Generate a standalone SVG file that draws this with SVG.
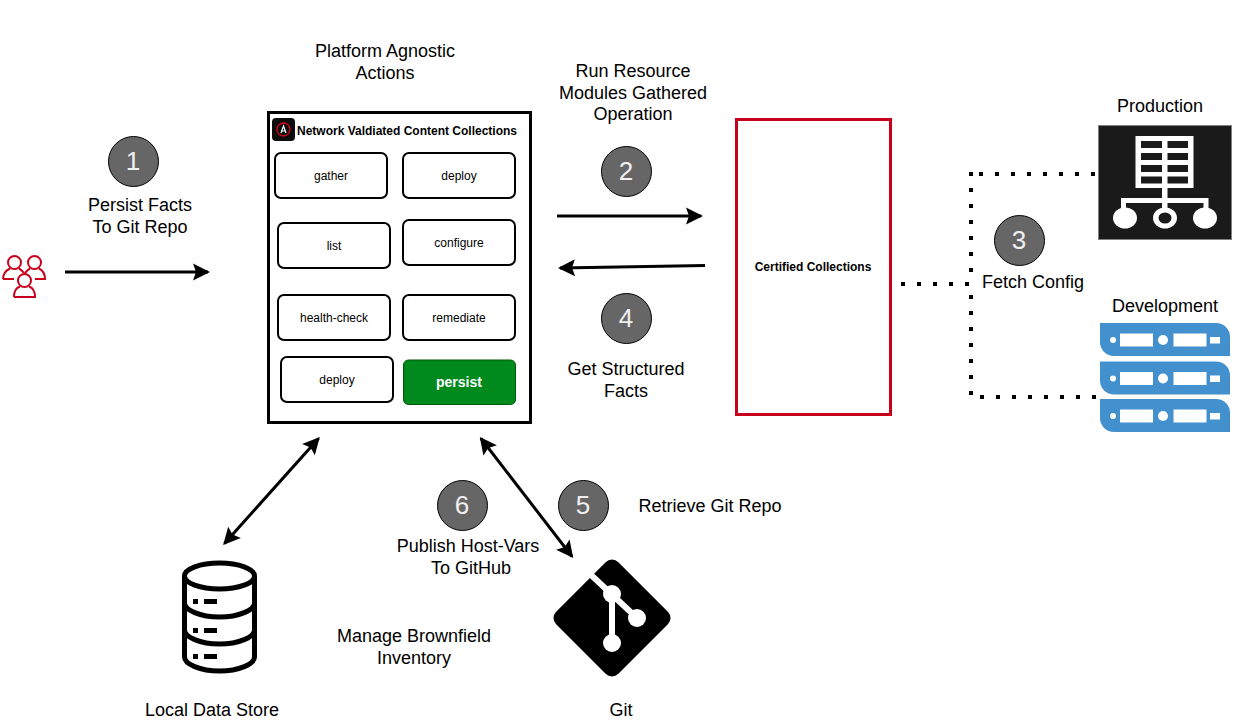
<svg xmlns="http://www.w3.org/2000/svg" width="1244" height="722" viewBox="0 0 1244 722">
<style>
text{font-family:"Liberation Sans",Arial,sans-serif;fill:#000}
.l{font-size:18px;text-anchor:middle}
.s{font-size:12px;text-anchor:middle}
.b{font-size:12px;font-weight:bold}
.box{fill:#fff;stroke:#000;stroke-width:2}
.n{fill:#666;stroke:#000;stroke-width:1}
.nt{font-size:26px;text-anchor:middle;fill:#f0f0f0}
.a{fill:none;stroke:#000;stroke-width:3}
.d{fill:none;stroke:#000;stroke-width:4;stroke-dasharray:4 12}
.p{fill:none;stroke:#c9001b;stroke-width:2}
.sv{fill:#4390ce}
.w{fill:#fff}
</style>
<defs>
<marker id="ah" markerUnits="userSpaceOnUse" markerWidth="30" markerHeight="30" viewBox="-5 -15 30 30" refX="14" refY="0" orient="auto-start-reverse"><path d="M-1-8.500L16 0L-1 8.500L2 0Z" fill="#000"/></marker>
<g id="srv"><path class="sv" d="M1100 0H1216A14 14 0 0 1 1230 14V33H1114A14 14 0 0 1 1100 19Z"/><circle class="w" cx="1113" cy="17" r="3"/><rect class="w" x="1120" y="10.500" width="33" height="13"/><circle class="w" cx="1163" cy="17" r="5"/><rect class="w" x="1173.500" y="10.500" width="33" height="13"/><rect class="w" x="1210" y="14" width="10" height="6.500"/></g>
</defs>
<g id="connectors">
<path class="a" marker-end="url(#ah)" d="M65 272H208"/>
<path class="a" marker-end="url(#ah)" d="M557 216H701"/>
<path class="a" marker-end="url(#ah)" d="M705 265.500L560 268"/>
<path class="a" marker-start="url(#ah)" marker-end="url(#ah)" d="M224.500 543.500L318.500 438.500"/>
<path class="a" marker-start="url(#ah)" marker-end="url(#ah)" d="M481 438.500L572 556.500"/>
<path class="d" d="M901 284H969"/>
<path class="d" d="M979 174H1095"/>
<path class="d" d="M969 174H973"/>
<path class="d" d="M971 188V272"/>
<path class="d" d="M971 295V395"/>
<path class="d" d="M980 397H1096"/>
</g>
<g id="users">
<circle class="p" cx="14.500" cy="262.500" r="6.500"/><circle class="p" cx="34.500" cy="262.500" r="6.500"/><circle class="p" cx="24.500" cy="280.500" r="6.500"/>
<path class="p" d="M3 279C3 272 8 269.500 10 268.500M19 268.500C21 269.500 22.500 271 24 273M3 279H14M25 273C27 271 28 269.500 30 268.500M39 268.500C42 270 45 273 45 279H35"/>
<path class="p" d="M14 297C14 290 17 287.500 20 286.500M29 286.500C32 287.500 35 290 35 297H14"/>
</g>
<g id="platform">
<rect x="268.500" y="112.500" width="262" height="310" fill="#fff" stroke="#000" stroke-width="3"/>
<rect x="272" y="118" width="23" height="23" rx="4" fill="#0c0c0c"/>
<circle cx="283.500" cy="129.500" r="6.500" fill="none" stroke="#e00020" stroke-width="1.300"/>
<path d="M281 133L283.500 126L286 133M282 131H285" fill="none" stroke="#fff" stroke-width="1.200"/>
<text class="b" x="297" y="135">Network Valdiated Content Collections</text>
<text class="l"><tspan x="385" y="57">Platform Agnostic</tspan><tspan x="385" y="79">Actions</tspan></text>
</g>
<g id="gather"><rect class="box" x="275" y="153" width="112" height="45" rx="6"/><text class="s" x="331" y="180">gather</text></g>
<g id="deploy1"><rect class="box" x="403" y="153" width="112" height="45" rx="6"/><text class="s" x="459" y="180">deploy</text></g>
<g id="list"><rect class="box" x="278" y="223" width="112" height="45" rx="6"/><text class="s" x="334" y="250">list</text></g>
<g id="configure"><rect class="box" x="403" y="220" width="112" height="45" rx="6"/><text class="s" x="459" y="247">configure</text></g>
<g id="health"><rect class="box" x="278" y="295" width="112" height="45" rx="6"/><text class="s" x="334" y="322">health-check</text></g>
<g id="remediate"><rect class="box" x="403" y="295" width="112" height="45" rx="6"/><text class="s" x="459" y="322">remediate</text></g>
<g id="deploy2"><rect class="box" x="281" y="357" width="112" height="45" rx="6"/><text class="s" x="337" y="384">deploy</text></g>
<g id="persist"><rect x="403.500" y="360" width="112" height="44.500" rx="5" fill="#008a1e" stroke="#005700"/><text x="459" y="387" font-size="14" font-weight="bold" text-anchor="middle" style="fill:#fff">persist</text></g>
<g id="certified"><rect x="736.500" y="119.500" width="154" height="295" fill="#fff" stroke="#c9001b" stroke-width="3"/><text class="b" x="813" y="271" text-anchor="middle">Certified Collections</text></g>
<g id="production">
<text class="l" x="1160" y="112">Production</text>
<rect x="1098.500" y="125.500" width="133" height="114" fill="#1a1a1a" stroke="#808080"/>
<rect x="1135.500" y="136" width="58" height="52" class="w"/>
<path fill="#1a1a1a" d="M1141 141h21v7h-21zM1167.500 141h20.500v7h-20.500zM1141 153h21v7h-21zM1167.500 153h20.500v7h-20.500zM1141 165h21v7h-21zM1167.500 165h20.500v7h-20.500zM1141 176.500h21v7h-21zM1167.500 176.500h20.500v7h-20.500z"/>
<path class="w" d="M1162 188h5.500v10h41v12h-5v-7h-36v7h-5.500v-7h-36v7h-5v-12h41z"/>
<ellipse class="w" cx="1125" cy="218" rx="12" ry="10.500"/>
<ellipse class="w" cx="1165" cy="218" rx="12" ry="10.500"/>
<ellipse cx="1165" cy="218" rx="6.500" ry="5.500" fill="#1a1a1a"/>
<ellipse class="w" cx="1205" cy="218" rx="12" ry="10.500"/>
</g>
<g id="development">
<text class="l" x="1165" y="312">Development</text>
<use href="#srv" y="323"/><use href="#srv" y="361.500"/><use href="#srv" y="399"/>
</g>
<g id="database" fill="none" stroke="#000" stroke-width="5">
<ellipse cx="219.500" cy="576" rx="35" ry="13"/>
<path d="M184.500 576V657C184.500 664 200 671 219.500 671S254.500 664 254.500 657V576M184.500 603C184.500 610 200 617 219.500 617S254.500 610 254.500 603M184.500 630C184.500 637 200 644 219.500 644S254.500 637 254.500 630"/>
<path stroke="none" fill="#000" d="M193 599h5v5h-5zM204 599h13v5h-13zM193 628h5v5h-5zM204 628h13v5h-13zM193 654h5v5h-5zM204 654h13v5h-13z"/>
</g>
<g id="git">
<rect x="568" y="574" width="88" height="88" rx="9" fill="#000" transform="rotate(45 612 618)"/>
<path d="M590 574L637 618M612 594V643" fill="none" stroke="#fff" stroke-width="6"/>
<circle class="w" cx="612" cy="594" r="9"/><circle class="w" cx="637" cy="618" r="9"/><circle class="w" cx="612" cy="643" r="9"/>
</g>
<g id="step1"><circle class="n" cx="133.500" cy="161.500" r="25"/><text class="nt" x="133" y="170">1</text></g>
<g id="step2"><circle class="n" cx="626.500" cy="171.500" r="25"/><text class="nt" x="626" y="180">2</text></g>
<g id="step3"><circle class="n" cx="1019.500" cy="240.500" r="25"/><text class="nt" x="1019" y="249">3</text></g>
<g id="step4"><circle class="n" cx="626.500" cy="318.500" r="25"/><text class="nt" x="626" y="327">4</text></g>
<g id="step5"><circle class="n" cx="583.500" cy="505.500" r="25"/><text class="nt" x="583" y="514">5</text></g>
<g id="step6"><circle class="n" cx="462.500" cy="505.500" r="25"/><text class="nt" x="462" y="514">6</text></g>
<g id="labels">
<text class="l"><tspan x="140" y="211">Persist Facts</tspan><tspan x="140" y="233">To Git Repo</tspan></text>
<text class="l"><tspan x="633" y="77">Run Resource</tspan><tspan x="633" y="99">Modules Gathered</tspan><tspan x="633" y="120">Operation</tspan></text>
<text class="l"><tspan x="626" y="375">Get Structured</tspan><tspan x="626" y="397">Facts</tspan></text>
<text class="l" x="1033" y="288">Fetch Config</text>
<text class="l" x="710" y="512">Retrieve Git Repo</text>
<text class="l"><tspan x="468" y="552">Publish Host-Vars</tspan><tspan x="471" y="574">To GitHub</tspan></text>
<text class="l"><tspan x="414" y="642">Manage Brownfield</tspan><tspan x="414" y="664">Inventory</tspan></text>
<text class="l" x="212" y="716">Local Data Store</text>
<text class="l" x="621" y="716">Git</text>
</g>
</svg>
